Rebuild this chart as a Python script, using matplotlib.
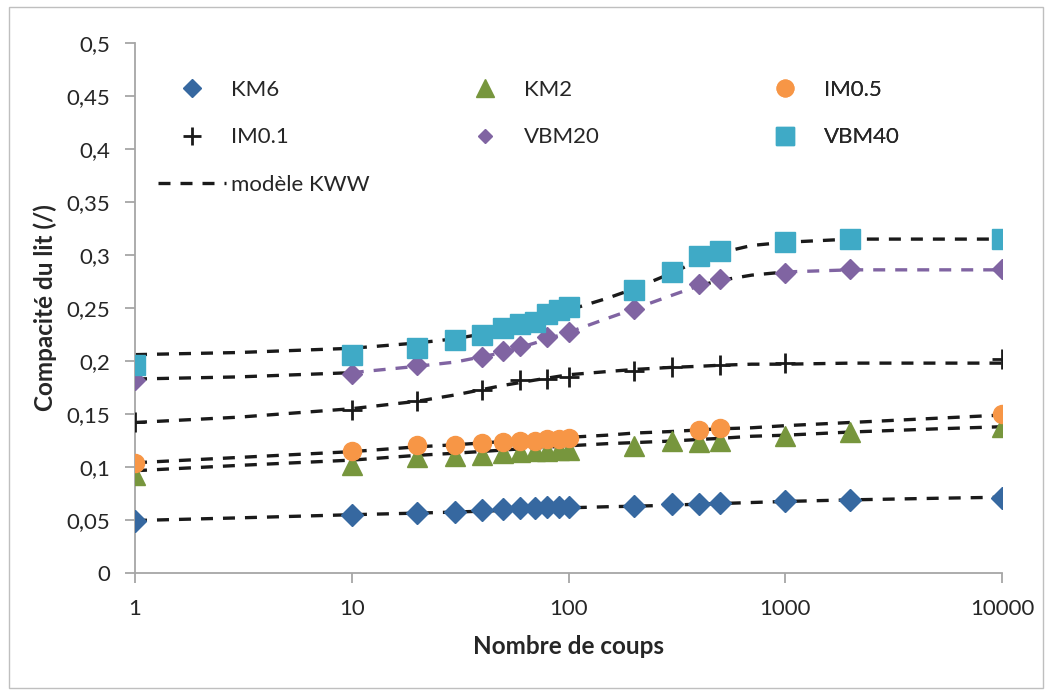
import matplotlib.pyplot as plt
from matplotlib.lines import Line2D
from matplotlib.patches import Rectangle

plt.rcParams['font.family'] = ['Lato', 'DejaVu Sans']

# Mesures : compacité du lit en fonction du nombre de coups
n_all = [1, 10, 20, 30, 40, 50, 60, 70, 80, 90, 100, 200, 300, 400, 500, 1000, 2000, 10000]
km6 = [0.049, 0.055, 0.057, 0.058, 0.059, 0.060, 0.061, 0.061, 0.062, 0.062, 0.062,
       0.063, 0.065, 0.065, 0.066, 0.068, 0.069, 0.071]
km2 = [0.092, 0.102, 0.109, 0.110, 0.111, 0.113, 0.114, 0.115, 0.115, 0.116, 0.116,
       0.120, 0.125, 0.124, 0.125, 0.129, 0.133, 0.138]

n_im05 = [1, 10, 20, 30, 40, 50, 60, 70, 80, 90, 100, 400, 500, 10000]
im05 = [0.104, 0.115, 0.121, 0.121, 0.123, 0.124, 0.125, 0.125, 0.126, 0.126, 0.127,
        0.135, 0.137, 0.150]

n_im01 = [1, 10, 20, 40, 60, 80, 100, 200, 300, 500, 1000, 10000]
im01 = [0.142, 0.154, 0.162, 0.173, 0.182, 0.183, 0.185, 0.191, 0.194, 0.196, 0.198, 0.202]

n_vbm20 = [1, 10, 20, 40, 50, 60, 80, 100, 200, 400, 500, 1000, 2000, 10000]
vbm20 = [0.182, 0.188, 0.196, 0.204, 0.209, 0.214, 0.223, 0.227, 0.249, 0.273, 0.277,
         0.283, 0.287, 0.287]

vbm40 = [0.196, 0.206, 0.212, 0.220, 0.225, 0.231, 0.235, 0.237, 0.244, 0.248, 0.251,
         0.267, 0.284, 0.299, 0.304, 0.312, 0.315, 0.315]

n_fit = [1, 3, 10, 20, 30, 50, 70, 100, 150, 200, 300, 400, 500, 700, 1000, 2000, 5000, 10000]
fit_km6 = [0.0495, 0.052, 0.055, 0.0565, 0.0575, 0.059, 0.060, 0.0615, 0.0625, 0.063,
           0.064, 0.065, 0.0655, 0.0665, 0.0675, 0.069, 0.0705, 0.0715]
fit_km2 = [0.0965, 0.1015, 0.1065, 0.111, 0.113, 0.116, 0.118, 0.120, 0.122, 0.123,
           0.1245, 0.126, 0.127, 0.129, 0.130, 0.133, 0.136, 0.138]
fit_im05 = [0.104, 0.109, 0.1145, 0.119, 0.121, 0.124, 0.126, 0.128, 0.130, 0.132,
            0.1335, 0.135, 0.136, 0.137, 0.139, 0.142, 0.146, 0.149]
fit_im01 = [0.142, 0.147, 0.155, 0.162, 0.168, 0.177, 0.182, 0.187, 0.190, 0.192,
            0.194, 0.195, 0.196, 0.197, 0.197, 0.198, 0.198, 0.198]
fit_vbm20 = [0.183, 0.185, 0.189, 0.195, 0.199, 0.208, 0.217, 0.227, 0.240, 0.249,
             0.262, 0.271, 0.276, 0.281, 0.284, 0.286, 0.286, 0.286]
fit_vbm40 = [0.206, 0.208, 0.212, 0.217, 0.221, 0.229, 0.237, 0.248, 0.259, 0.268,
             0.283, 0.295, 0.302, 0.309, 0.312, 0.315, 0.315, 0.315]

C_KM6 = '#3668a0'
C_KM2 = '#77963d'
C_IM05 = '#f79646'
C_IM01 = '#1a1a1a'
C_VBM20 = '#8064a2'
C_VBM40 = '#3faac6'
C_FIT = '#1a1a1a'
C_AXIS = '#a6a6a6'
C_TEXT = '#262626'

dash = (0, (3.6, 3.0))
fit_lw = 2.4

fig = plt.figure(figsize=(10.51, 6.95), dpi=100)
fig.patches.append(Rectangle((9 / 1051, 7 / 695), 1034 / 1051, 681 / 695,
                             transform=fig.transFigure, fill=False,
                             edgecolor='#bfbfbf', linewidth=1.0))
ax = fig.add_axes([135 / 1051, 1 - 573 / 695, 867 / 1051, 530 / 695])

# modèle KWW
for fit in [fit_km6, fit_km2, fit_im05, fit_im01, fit_vbm40]:
    ax.plot(n_fit, fit, color=C_FIT, linestyle=dash, linewidth=fit_lw, zorder=2)

# le modèle VBM20 est tracé en partie en violet
for lo, hi, col in [(1, 10, C_FIT), (10, 400, C_VBM20), (400, 1000, C_FIT), (1000, 10000, C_VBM20)]:
    xs = [x for x in n_fit if lo <= x <= hi]
    ys = [y for x, y in zip(n_fit, fit_vbm20) if lo <= x <= hi]
    ax.plot(xs, ys, color=col, linestyle=dash, linewidth=fit_lw, zorder=2)

ax.plot(n_all, km6, linestyle='none', marker='D', markersize=11, color=C_KM6, zorder=3)
ax.plot(n_all, km2, linestyle='none', marker='^', markersize=15, color=C_KM2, zorder=3)
ax.plot(n_im05, im05, linestyle='none', marker='o', markersize=13, color=C_IM05, zorder=3)
ax.plot(n_im01, im01, linestyle='none', marker='+', markersize=14, markeredgewidth=2,
        color=C_IM01, zorder=3)
ax.plot(n_vbm20, vbm20, linestyle='none', marker='D', markersize=10.3, color=C_VBM20, zorder=3)
ax.plot(n_all, vbm40, linestyle='none', marker='s', markersize=14.5, color=C_VBM40, zorder=3)

ax.set_xscale('log')
ax.set_xlim(1, 10000)
ax.set_ylim(0, 0.5)
ax.set_xticks([1, 10, 100, 1000, 10000])
ax.set_xticklabels(['1', '10', '100', '1000', '10000'])
ax.minorticks_off()
yt = [i * 0.05 for i in range(11)]
ax.set_yticks(yt)
ax.set_yticklabels(['0'] + [('%.2f' % v).rstrip('0').replace('.', ',') for v in yt[1:]])

for s in ['top', 'right']:
    ax.spines[s].set_visible(False)
for s in ['left', 'bottom']:
    ax.spines[s].set_color(C_AXIS)
    ax.spines[s].set_linewidth(1.3)
ax.tick_params(axis='both', direction='out', length=7, width=1.3, color=C_AXIS,
               labelsize=16, labelcolor=C_TEXT)
ax.tick_params(axis='y', pad=11)
ax.tick_params(axis='x', pad=12)

ax.set_xlabel('Nombre de coups', fontsize=17.5, fontweight='bold', color=C_TEXT, labelpad=11)
ax.set_ylabel('Compacité du lit (/)', fontsize=17.5, fontweight='bold', color=C_TEXT, labelpad=7)

# légende en trois colonnes
def handle(marker, color, size, mew=1.0):
    return Line2D([], [], linestyle='none', marker=marker, color=color,
                  markersize=size, markeredgewidth=mew)

kww = Line2D([], [], color=C_FIT, linestyle=dash, linewidth=fit_lw)
columns = [
    (0.0265, [handle('D', C_KM6, 8.7), handle('+', C_IM01, 13, 2), kww],
     ['KM6', 'IM0.1', 'modèle KWW']),
    (0.3645, [handle('^', C_KM2, 13), handle('D', C_VBM20, 7.5)], ['KM2', 'VBM20']),
    (0.7105, [handle('o', C_IM05, 12), handle('s', C_VBM40, 13)], ['IM0.5', 'VBM40']),
]
for x0, hs, labels in columns:
    leg = ax.legend(hs, labels, loc='upper left', bbox_to_anchor=(x0, 0.931),
                    frameon=False, fontsize=16, handlelength=3.05, handletextpad=0.25,
                    labelspacing=1.25, borderpad=0, borderaxespad=0)
    for t in leg.get_texts():
        t.set_color(C_TEXT)
    ax.add_artist(leg)

fig.savefig('out.png', dpi=100)
